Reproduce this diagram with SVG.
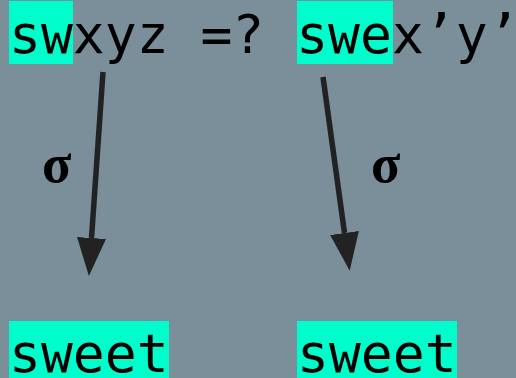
<svg xmlns="http://www.w3.org/2000/svg" width="516" height="378" viewBox="0 0 516 378">
<style>
.t{font-family:"DejaVu Sans Mono","Liberation Mono",monospace;font-size:53px;fill:#000}
.hl{fill:#00fecc}
.s{font-family:"Liberation Serif","DejaVu Serif",serif;font-weight:bold;font-size:54px;fill:#000}
.c{stroke:#222;stroke-width:5.5;fill:none}
</style>
<defs>
<marker id="ah" markerUnits="userSpaceOnUse" markerWidth="40" markerHeight="30" refX="0" refY="14.5" orient="auto" viewBox="0 0 40 30">
<path d="M0,0 L38,14.5 L0,29 Z" fill="#222"/>
</marker>
</defs>
<rect width="516" height="378" fill="#7a8f99"/>
<g id="top">
<rect class="hl" x="9" y="1" width="64" height="63"/>
<rect class="hl" x="297" y="1" width="96" height="63"/>
<text class="t" x="9" y="53" xml:space="preserve">swxyz =? swex’y’</text>
</g>
<g id="bottom-left">
<rect class="hl" x="9" y="321" width="160" height="57"/>
<text class="t" x="9" y="372">sweet</text>
</g>
<g id="bottom-right">
<rect class="hl" x="297" y="321" width="160" height="57"/>
<text class="t" x="297" y="372">sweet</text>
</g>
<g id="connectors">
<line class="c" x1="103" y1="72" x2="91.5" y2="238" marker-end="url(#ah)"/>
<line class="c" x1="323" y1="77" x2="344.5" y2="233" marker-end="url(#ah)"/>
<text class="s" x="42" y="182">σ</text>
<text class="s" x="371" y="182">σ</text>
</g>
</svg>
